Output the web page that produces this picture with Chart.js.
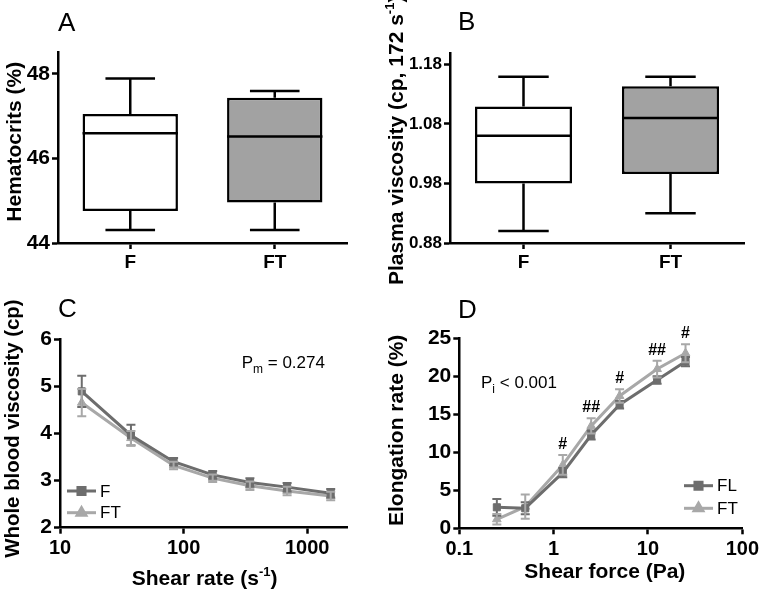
<!DOCTYPE html>
<html>
<head>
<meta charset="utf-8">
<script src="https://cdn.jsdelivr.net/npm/chart.js@4.4.1/dist/chart.umd.min.js"></script>
<style>
  body { margin: 0; background: #fff; }
  #figura { position: relative; width: 762px; height: 592px; background: #fff; }
  #figura canvas { position: absolute; }
</style>
</head>
<body>
<div id="figura">
  <canvas id="chartA" width="381" height="296" style="left:0;top:0"></canvas>
  <canvas id="chartB" width="381" height="296" style="left:381px;top:0"></canvas>
  <canvas id="chartC" width="381" height="296" style="left:0;top:296px"></canvas>
  <canvas id="chartD" width="381" height="296" style="left:381px;top:296px"></canvas>
</div>
<script>
// groups
var groups = ['F', 'FT'];

// A - hematocrit box plot
var hctMin = [44.31, 44.31];
var hctQ1 = [44.76, 44.96];
var hctMedian = [46.6, 46.52];
var hctQ3 = [47.05, 47.44];
var hctMax = [47.89, 47.6];
var hctTicks = [44, 46, 48];

// B - plasma viscosity box plot
var pvMin = [0.900, 0.930];
var pvQ1 = [0.980, 0.996];
var pvMedian = [1.060, 1.090];
var pvQ3 = [1.109, 1.143];
var pvMax = [1.159, 1.159];
var pvTicks = [0.88, 0.98, 1.08, 1.18];

// C - whole blood viscosity vs shear rate
var shearRates = [15, 37.5, 83, 172, 344, 688, 1550];
var wbvF = [4.89, 3.96, 3.40, 3.12, 2.96, 2.86, 2.73];
var wbvFErr = [0.33, 0.22, 0.08, 0.08, 0.09, 0.09, 0.09];
var wbvFT = [4.65, 3.90, 3.32, 3.05, 2.89, 2.78, 2.67];
var wbvFTErr = [0.29, 0.15, 0.08, 0.08, 0.09, 0.09, 0.09];
var shearRateTicks = [10, 100, 1000];
var wbvTicks = [2, 3, 4, 5, 6];

// D - elongation vs shear force
var shearForces = [0.25, 0.5, 1.25, 2.5, 5, 12.5, 25];
var elongFL = [2.77, 2.64, 7.34, 12.3, 16.3, 19.55, 21.98];
var elongFLErr = [1.1, 0.8, 0.6, 0.6, 0.5, 0.5, 0.6];
var elongFT = [1.19, 2.85, 8.35, 13.5, 17.45, 21.0, 23.08];
var elongFTErr = [0.7, 1.6, 1.3, 1.0, 0.9, 1.1, 1.2];
var elongMarks = ['', '', '#', '##', '#', '##', '#'];
var shearForceTicks = [0.1, 1, 10, 100];
var elongTicks = [0, 5, 10, 15, 20, 25];

var FONT = "'Liberation Sans', Arial, Helvetica, sans-serif";
var DARK = '#6d6d6d';
var LIGHT = '#a8a8a8';
var BOX_GRAY = '#a2a2a2';

Chart.defaults.font.family = FONT;
Chart.defaults.color = '#000';

function fixedTicks(values) {
  return function(scale) {
    scale.ticks = values.map(function(v) { return {value: v}; });
  };
}

function axisY(min, max, values, width, size, decimals) {
  return {
    min: min,
    max: max,
    afterBuildTicks: fixedTicks(values),
    afterFit: function(scale) { scale.width = width; },
    grid: {drawOnChartArea: false, tickLength: 6, tickWidth: 2.5, tickColor: '#000'},
    border: {color: '#000', width: 2.5},
    ticks: {
      color: '#000', padding: 2,
      font: {family: FONT, weight: 'bold', size: size},
      callback: function(v) { return decimals ? Number(v).toFixed(decimals) : String(v); }
    }
  };
}

function axisCategory(height) {
  return {
    afterFit: function(scale) { scale.height = height; },
    grid: {drawOnChartArea: false, offset: false, tickLength: 6, tickWidth: 2.5, tickColor: '#000'},
    border: {color: '#000', width: 2.5},
    ticks: {color: '#000', padding: 2, font: {family: FONT, weight: 'bold', size: 19}}
  };
}

function axisLog(min, max, values, height) {
  return {
    type: 'logarithmic',
    min: min,
    max: max,
    afterBuildTicks: fixedTicks(values),
    afterFit: function(scale) { scale.height = height; },
    grid: {drawOnChartArea: false, tickLength: 6, tickWidth: 2.5, tickColor: '#000'},
    border: {color: '#000', width: 2.5},
    ticks: {
      color: '#000', padding: 3, autoSkip: false, maxRotation: 0,
      font: {family: FONT, weight: 'bold', size: 20},
      callback: function(v) { return String(v); }
    }
  };
}

// text made of pieces: [text, font, dy]
function drawParts(ctx, parts, x, y, rotation) {
  ctx.save();
  ctx.translate(x, y);
  if (rotation) ctx.rotate(rotation);
  ctx.fillStyle = '#000';
  ctx.textBaseline = 'alphabetic';
  ctx.textAlign = 'left';
  var cx = 0;
  parts.forEach(function(p) {
    ctx.font = p[1];
    ctx.fillText(p[0], cx, p[2] || 0);
    cx += ctx.measureText(p[0]).width;
  });
  ctx.restore();
}

function textPlugin(items) {
  return {
    id: 'testi',
    afterDraw: function(chart) {
      items.forEach(function(it) {
        drawParts(chart.ctx, it.parts, it.x, it.y, it.rot);
      });
    }
  };
}

function whiskerPlugin(mins, medians, maxs) {
  return {
    id: 'baffi',
    afterDatasetsDraw: function(chart) {
      var ctx = chart.ctx;
      var y = chart.scales.y;
      var bars = chart.getDatasetMeta(0).data;
      ctx.save();
      ctx.strokeStyle = '#000';
      ctx.lineWidth = 2.5;
      for (var i = 0; i < bars.length; i++) {
        var bar = bars[i];
        var half = bar.width / 2;
        var cap = half * 0.52;
        var top = Math.min(bar.y, bar.base);
        var bottom = Math.max(bar.y, bar.base);
        var yMed = y.getPixelForValue(medians[i]);
        var yMax = y.getPixelForValue(maxs[i]);
        var yMin = y.getPixelForValue(mins[i]);
        ctx.beginPath();
        ctx.moveTo(bar.x - half, yMed);
        ctx.lineTo(bar.x + half, yMed);
        ctx.moveTo(bar.x, top);
        ctx.lineTo(bar.x, yMax);
        ctx.moveTo(bar.x - cap, yMax);
        ctx.lineTo(bar.x + cap, yMax);
        ctx.moveTo(bar.x, bottom);
        ctx.lineTo(bar.x, yMin);
        ctx.moveTo(bar.x - cap, yMin);
        ctx.lineTo(bar.x + cap, yMin);
        ctx.stroke();
      }
      ctx.restore();
    }
  };
}

function errorBarPlugin(errors) {
  return {
    id: 'errori',
    afterDatasetsDraw: function(chart) {
      var ctx = chart.ctx;
      var y = chart.scales.y;
      ctx.save();
      ctx.lineWidth = 2;
      chart.data.datasets.forEach(function(ds, d) {
        var points = chart.getDatasetMeta(d).data;
        ctx.strokeStyle = ds.borderColor;
        ctx.beginPath();
        points.forEach(function(pt, i) {
          var v = ds.data[i].y;
          var yTop = y.getPixelForValue(v + errors[d][i]);
          var yBot = y.getPixelForValue(v - errors[d][i]);
          ctx.moveTo(pt.x, yTop);
          ctx.lineTo(pt.x, yBot);
          ctx.moveTo(pt.x - 4.5, yTop);
          ctx.lineTo(pt.x + 4.5, yTop);
          ctx.moveTo(pt.x - 4.5, yBot);
          ctx.lineTo(pt.x + 4.5, yBot);
        });
        ctx.stroke();
      });
      ctx.restore();
    }
  };
}

function legendPlugin(x0, x1, rows) {
  return {
    id: 'legenda',
    afterDraw: function(chart) {
      var ctx = chart.ctx;
      ctx.save();
      chart.data.datasets.forEach(function(ds, d) {
        var yy = rows[d];
        ctx.strokeStyle = ds.borderColor;
        ctx.lineWidth = 3;
        ctx.beginPath();
        ctx.moveTo(x0, yy);
        ctx.lineTo(x1, yy);
        ctx.stroke();
        ctx.fillStyle = ds.backgroundColor;
        ctx.strokeStyle = ds.borderColor;
        Chart.helpers.drawPoint(ctx, {pointStyle: ds.pointStyle, radius: ds.pointRadius, rotation: 0, borderWidth: 1}, (x0 + x1) / 2, yy);
        ctx.fillStyle = '#000';
        ctx.font = '17px ' + FONT;
        ctx.textBaseline = 'middle';
        ctx.fillText(ds.label, x1 + 4, yy + 1);
      });
      ctx.restore();
    }
  };
}

function series(label, xs, ys, color, style) {
  return {
    label: label,
    data: xs.map(function(x, i) { return {x: x, y: ys[i]}; }),
    borderColor: color,
    backgroundColor: color,
    borderWidth: 3,
    pointStyle: style,
    pointRadius: 5,
    pointBorderWidth: 1,
    tension: 0
  };
}

function boxChart(id, mins, q1, medians, q3, maxs, yAxis, pad, texts) {
  return new Chart(document.getElementById(id), {
    type: 'bar',
    data: {
      labels: groups,
      datasets: [{
        data: groups.map(function(g, i) { return [q1[i], q3[i]]; }),
        backgroundColor: ['#ffffff', BOX_GRAY],
        borderColor: '#000',
        borderWidth: 2.5,
        borderSkipped: false,
        barPercentage: 0.66,
        categoryPercentage: 1
      }]
    },
    options: {
      responsive: false,
      animation: false,
      layout: {padding: pad},
      plugins: {legend: {display: false}, tooltip: {enabled: false}},
      scales: {x: axisCategory(53), y: yAxis}
    },
    plugins: [whiskerPlugin(mins, medians, maxs), textPlugin(texts)]
  });
}

var B21 = 'bold 21px ' + FONT;
var B13 = 'bold 13px ' + FONT;
var LETTER = '26px ' + FONT;
var UP = -Math.PI / 2;

boxChart('chartA', hctMin, hctQ1, hctMedian, hctQ3, hctMax,
  axisY(44, 48.52, hctTicks, 58, 21, 0),
  {top: 52, right: 34, left: 0, bottom: 0},
  [
    {x: 58, y: 30.5, parts: [['A', LETTER]]},
    {x: 20.5, y: 221.7, rot: UP, parts: [['Hematocrits (%)', B21]]}
  ]);

boxChart('chartB', pvMin, pvQ1, pvMedian, pvQ3, pvMax,
  axisY(0.88, 1.199, pvTicks, 69, 17, 2),
  {top: 53, right: 18, left: 0, bottom: 0},
  [
    {x: 77, y: 29.5, parts: [['B', LETTER]]},
    {x: 21.7, y: 285, rot: UP, parts: [['Plasma viscosity (cp, 172 s', B21], ['-1', B13, -9], [')', B21]]}
  ]);

new Chart(document.getElementById('chartC'), {
  type: 'line',
  data: {
    datasets: [
      series('F', shearRates, wbvF, DARK, 'rect'),
      series('FT', shearRates, wbvFT, LIGHT, 'triangle')
    ]
  },
  options: {
    responsive: false,
    animation: false,
    layout: {padding: {top: 43, right: 34, left: 0, bottom: 0}},
    plugins: {legend: {display: false}, tooltip: {enabled: false}},
    scales: {
      x: axisLog(10, 2100, shearRateTicks, 64.3),
      y: axisY(2, 6, wbvTicks, 60, 21, 0)
    }
  },
  plugins: [
    errorBarPlugin([wbvFErr, wbvFTErr]),
    legendPlugin(67, 96, [195, 216.7]),
    textPlugin([
      {x: 58, y: 20.5, parts: [['C', LETTER]]},
      {x: 19, y: 261.7, rot: UP, parts: [['Whole blood viscosity (cp)', 'bold 20.4px ' + FONT]]},
      {x: 131.7, y: 289, parts: [['Shear rate (s', B21], ['-1', B13, -9], [')', B21]]},
      {x: 241.7, y: 71.7, parts: [['P', '17px ' + FONT], ['m', '12px ' + FONT, 5], [' = 0.274', '17px ' + FONT]]}
    ])
  ]
});

new Chart(document.getElementById('chartD'), {
  type: 'line',
  data: {
    datasets: [
      series('FL', shearForces, elongFL, DARK, 'rect'),
      series('FT', shearForces, elongFT, LIGHT, 'triangle')
    ]
  },
  options: {
    responsive: false,
    animation: false,
    layout: {padding: {top: 42.7, right: 17.7, left: 0, bottom: 0}},
    plugins: {legend: {display: false}, tooltip: {enabled: false}},
    scales: {
      x: axisLog(0.1, 100, shearForceTicks, 63.7),
      y: axisY(0, 25, elongTicks, 78.3, 21, 0)
    }
  },
  plugins: [
    errorBarPlugin([elongFLErr, elongFTErr]),
    legendPlugin(303, 332, [189.7, 212.3]),
    {
      id: 'cancelletti',
      afterDatasetsDraw: function(chart) {
        var ctx = chart.ctx;
        var x = chart.scales.x;
        var y = chart.scales.y;
        ctx.save();
        ctx.fillStyle = '#000';
        ctx.font = 'bold 16px ' + FONT;
        ctx.textAlign = 'center';
        ctx.textBaseline = 'alphabetic';
        for (var i = 0; i < elongMarks.length; i++) {
          if (!elongMarks[i]) continue;
          var px = x.getPixelForValue(shearForces[i]);
          var py = y.getPixelForValue(elongFT[i] + elongFTErr[i]) - 6;
          ctx.fillText(elongMarks[i], px, py);
        }
        ctx.restore();
      }
    },
    textPlugin([
      {x: 77, y: 22.3, parts: [['D', LETTER]]},
      {x: 21.7, y: 230, rot: UP, parts: [['Elongation rate (%)', B21]]},
      {x: 143.3, y: 281.7, parts: [['Shear force (Pa)', B21]]},
      {x: 100, y: 91.7, parts: [['P', '17px ' + FONT], ['i', '12px ' + FONT, 5], [' < 0.001', '17px ' + FONT]]}
    ])
  ]
});
</script>
</body>
</html>
